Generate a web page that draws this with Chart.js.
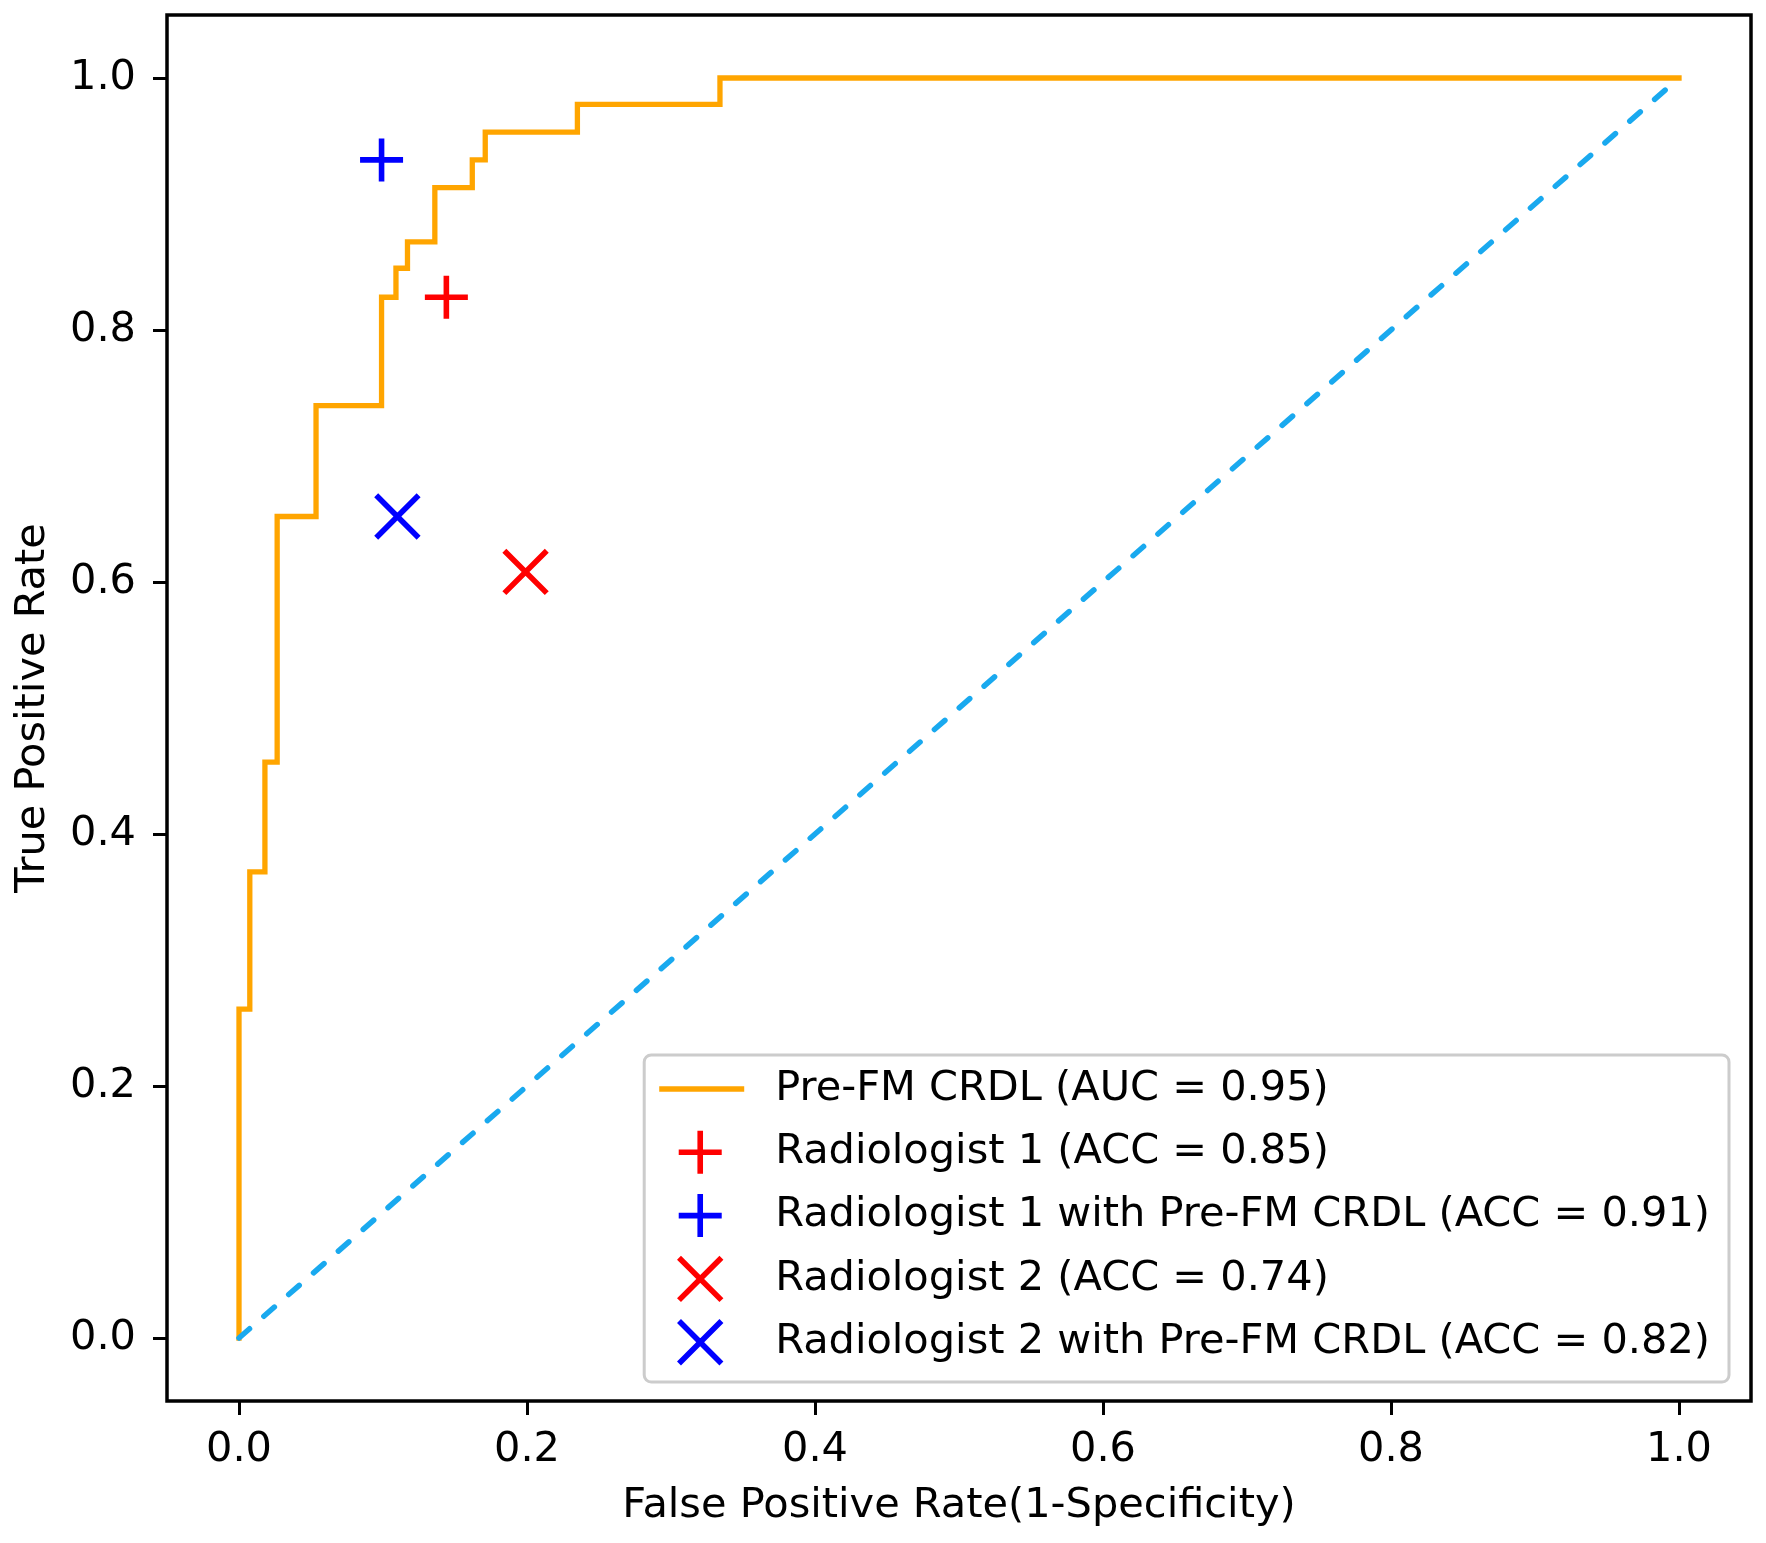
<!DOCTYPE html>
<html>
<head>
<meta charset="utf-8">
<script src="https://cdn.jsdelivr.net/npm/chart.js@4.4.0/dist/chart.umd.min.js"></script>
<style>
  html, body { margin: 0; padding: 0; background: #fff; }
  canvas { display: block; }
</style>
</head>
<body>
<canvas id="roc" width="1766" height="1543"></canvas>
<script>
// ROC curve corners
const rocFpr = [0, 0, 0.0075, 0.0075, 0.018, 0.018, 0.0265, 0.0265, 0.0535, 0.0535,
  0.099, 0.099, 0.109, 0.109, 0.117, 0.117, 0.136, 0.136, 0.162, 0.162,
  0.171, 0.171, 0.235, 0.235, 0.334, 0.334, 1.0];
const rocTpr = [0, 0.261, 0.261, 0.370, 0.370, 0.457, 0.457, 0.652, 0.652, 0.740,
  0.740, 0.826, 0.826, 0.849, 0.849, 0.870, 0.870, 0.913, 0.913, 0.935,
  0.935, 0.957, 0.957, 0.979, 0.979, 1.0, 1.0];
const rocLabel = 'Pre-FM CRDL (AUC = 0.95)';

const chanceFpr = [0, 1];
const chanceTpr = [0, 1];

const readerLabels = [
  'Radiologist 1 (ACC = 0.85)',
  'Radiologist 1 with Pre-FM CRDL (ACC = 0.91)',
  'Radiologist 2 (ACC = 0.74)',
  'Radiologist 2 with Pre-FM CRDL (ACC = 0.82)'
];
const readerFpr = [0.144, 0.099, 0.199, 0.110];
const readerTpr = [0.826, 0.935, 0.608, 0.652];

const xTicks = [0, 0.2, 0.4, 0.6, 0.8, 1.0];
const yTicks = [0, 0.2, 0.4, 0.6, 0.8, 1.0];

// styles
const font = 'DejaVu Sans';
const fontSize = 41.5;
const readerColors = ['#ff0000', '#0000ff', '#ff0000', '#0000ff'];
const readerStyles = ['cross', 'cross', 'crossRot', 'crossRot'];
const readerRadius = [21.5, 21.5, 30, 30];

const toPoints = (xs, ys) => xs.map((x, i) => ({ x: x, y: ys[i] }));

const datasets = [
  {
    label: rocLabel,
    data: toPoints(rocFpr, rocTpr),
    showLine: true,
    borderColor: '#ffa500',
    borderWidth: 5.3,
    borderCapStyle: 'square',
    pointRadius: 0,
    order: 3,
    legendKind: 'line'
  },
  {
    label: '',
    data: toPoints(chanceFpr, chanceTpr),
    showLine: true,
    borderColor: '#19a9ef',
    borderWidth: 5.5,
    borderDash: [14, 19],
    borderCapStyle: 'round',
    pointRadius: 0,
    order: 2,
    legendKind: null
  }
];
readerLabels.forEach((lab, i) => {
  datasets.push({
    label: lab,
    data: [{ x: readerFpr[i], y: readerTpr[i] }],
    pointStyle: readerStyles[i],
    pointRadius: readerRadius[i],
    pointHoverRadius: readerRadius[i],
    pointBorderWidth: 5.6,
    pointBorderColor: readerColors[i],
    pointBackgroundColor: 'rgba(0,0,0,0)',
    order: 1,
    legendKind: 'marker'
  });
});

// box around the plot, like matplotlib spines
const framePlugin = {
  id: 'frame',
  afterDatasetsDraw(chart) {
    const { ctx, chartArea: a } = chart;
    ctx.save();
    ctx.strokeStyle = '#000';
    ctx.lineWidth = 3.5;
    ctx.strokeRect(a.left, a.top, a.right - a.left, a.bottom - a.top);
    ctx.restore();
  }
};

function drawMarker(ctx, style, r, x, y) {
  ctx.beginPath();
  if (style === 'cross') {
    ctx.moveTo(x - r, y); ctx.lineTo(x + r, y);
    ctx.moveTo(x, y - r); ctx.lineTo(x, y + r);
  } else {
    const d = r * Math.SQRT1_2;
    ctx.moveTo(x - d, y - d); ctx.lineTo(x + d, y + d);
    ctx.moveTo(x + d, y - d); ctx.lineTo(x - d, y + d);
  }
  ctx.stroke();
}

// legend in the lower right, drawn from the datasets
const boxLegend = {
  id: 'boxLegend',
  afterDraw(chart) {
    const { ctx, chartArea: a } = chart;
    const items = chart.data.datasets.filter(d => d.legendKind);
    ctx.save();
    ctx.font = fontSize + 'px "' + font + '"';
    const maxW = Math.max(...items.map(d => ctx.measureText(d.label).width));
    const rowH = 63.3;
    const w = 131 + maxW + 19;
    const h = 327;
    const right = a.right - 22;
    const bottom = a.bottom - 19;
    const left = right - w;
    const top = bottom - h;

    ctx.beginPath();
    ctx.roundRect(left, top, w, h, 7);
    ctx.fillStyle = 'rgba(255,255,255,0.85)';
    ctx.fill();
    ctx.strokeStyle = '#cccccc';
    ctx.lineWidth = 3;
    ctx.stroke();

    items.forEach((d, i) => {
      const cy = top + 34 + i * rowH;
      if (d.legendKind === 'line') {
        ctx.beginPath();
        ctx.strokeStyle = d.borderColor;
        ctx.lineWidth = d.borderWidth;
        ctx.lineCap = 'butt';
        ctx.moveTo(left + 15, cy);
        ctx.lineTo(left + 100, cy);
        ctx.stroke();
      } else {
        ctx.strokeStyle = d.pointBorderColor;
        ctx.lineWidth = d.pointBorderWidth;
        ctx.lineCap = 'butt';
        drawMarker(ctx, d.pointStyle, d.pointRadius, left + 56, cy);
      }
      ctx.fillStyle = '#000';
      ctx.textAlign = 'left';
      ctx.textBaseline = 'middle';
      ctx.fillText(d.label, left + 131, cy);
    });
    ctx.restore();
  }
};

new Chart(document.getElementById('roc'), {
  type: 'scatter',
  data: { datasets: datasets },
  options: {
    responsive: false,
    devicePixelRatio: 1,
    animation: false,
    events: [],
    layout: { autoPadding: false, padding: { left: 0, top: 15, right: 15, bottom: 0 } },
    plugins: {
      legend: { display: false },
      tooltip: { enabled: false }
    },
    scales: {
      x: {
        type: 'linear',
        min: -0.05,
        max: 1.05,
        afterBuildTicks: s => { s.ticks = xTicks.map(v => ({ value: v })); },
        afterFit: s => { s.height = 142; s.paddingLeft = 0; s.paddingRight = 0; },
        ticks: {
          padding: 10,
          color: '#000',
          font: { family: font, size: fontSize },
          callback: v => v.toFixed(1),
          maxRotation: 0,
          autoSkip: false
        },
        grid: {
          display: true,
          drawOnChartArea: false,
          drawTicks: true,
          tickLength: 14,
          tickWidth: 3,
          tickColor: '#000'
        },
        border: { display: false },
        title: {
          display: true,
          text: 'False Positive Rate(1-Specificity)',
          color: '#000',
          font: { family: font, size: fontSize },
          padding: { top: 0, bottom: 12 }
        }
      },
      y: {
        type: 'linear',
        min: -0.05,
        max: 1.05,
        afterBuildTicks: s => { s.ticks = yTicks.map(v => ({ value: v })); },
        afterFit: s => { s.width = 167; s.paddingTop = 0; s.paddingBottom = 0; },
        ticks: {
          padding: 17,
          color: '#000',
          font: { family: font, size: fontSize },
          callback: v => v.toFixed(1),
          autoSkip: false
        },
        grid: {
          display: true,
          drawOnChartArea: false,
          drawTicks: true,
          tickLength: 14,
          tickWidth: 3,
          tickColor: '#000'
        },
        border: { display: false },
        title: {
          display: true,
          text: 'True Positive Rate',
          color: '#000',
          font: { family: font, size: fontSize },
          padding: { top: 8, bottom: 0 }
        }
      }
    }
  },
  plugins: [framePlugin, boxLegend]
});
</script>
</body>
</html>
